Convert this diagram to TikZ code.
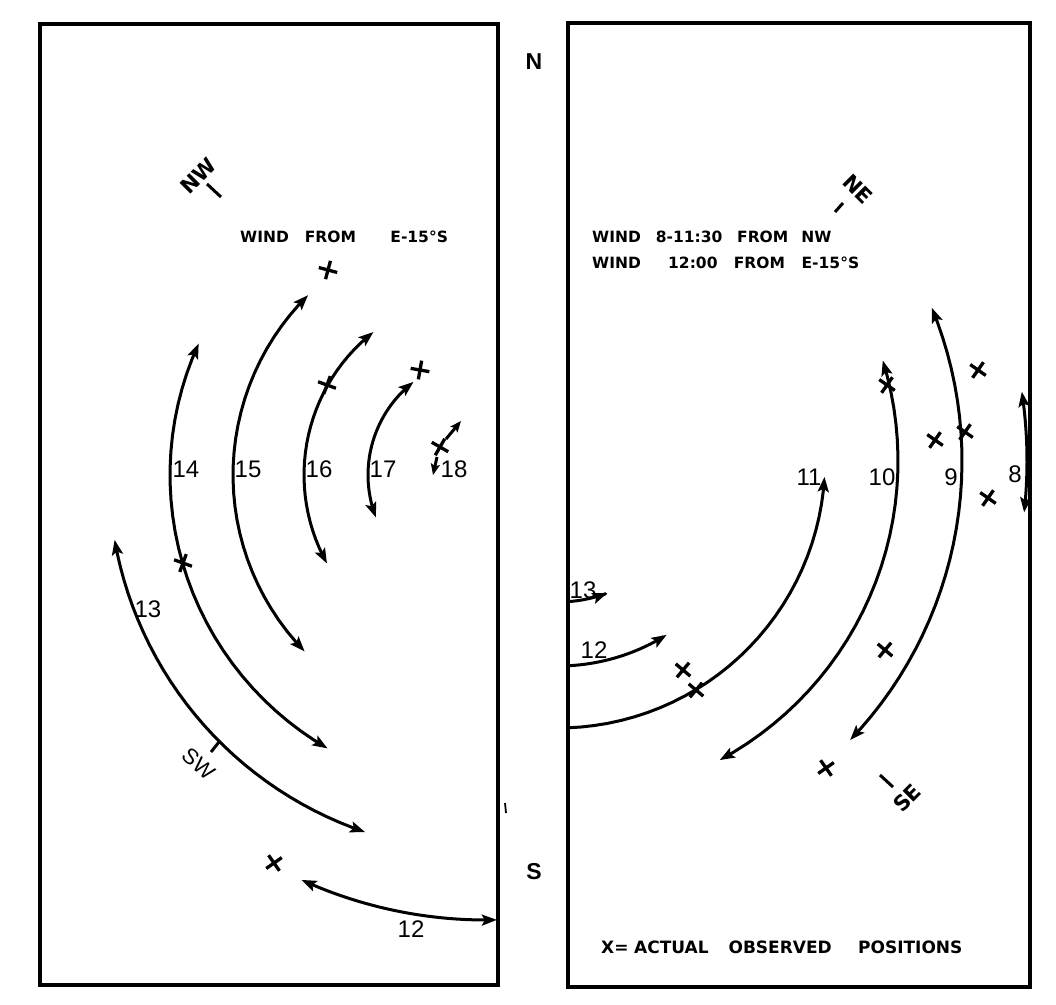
\documentclass[tikz,border=0pt]{standalone}
\usepackage{fontspec}
\setmainfont{Liberation Sans}
\newfontfamily\letterfont{DejaVu Sans}
\usepackage{graphicx}
\usetikzlibrary{arrows.meta}
\newcommand\windarc[6][]{\draw[arcline,#1] plot[domain=#5:#6,samples=30] ({#2+#4*cos(\x)},{#3+#4*sin(\x)});}
\newcommand\obsX[3]{\draw[xline] ({#1+9.5*cos(#3)},{#2+9.5*sin(#3)}) -- ({#1-9.5*cos(#3)},{#2-9.5*sin(#3)}) ({#1+9.5*cos(#3+90)},{#2+9.5*sin(#3+90)}) -- ({#1-9.5*cos(#3+90)},{#2-9.5*sin(#3+90)});}
\tikzset{
  panel/.style={line width=3.3pt},
  arcline/.style={line width=3pt},
  xline/.style={line width=3.3pt},
  tick/.style={line width=3pt},
  num/.style={inner sep=0pt, font=\fontsize{24}{24}\selectfont},
  lettering/.style={inner sep=0pt, anchor=west, font=\letterfont\fontsize{15.5}{15.5}\selectfont\bfseries},
  compass/.style={inner sep=0pt, font=\letterfont\fontsize{21}{21}\selectfont\bfseries},
  compassthin/.style={inner sep=0pt, font=\fontsize{22}{22}\selectfont},
  axislabel/.style={inner sep=0pt, font=\fontsize{23}{23}\selectfont\bfseries},
}
\begin{document}
\begin{tikzpicture}[x=1pt,y=-1pt,>={Stealth[length=15pt,width=11pt,inset=3pt]}]
\useasboundingbox (0,0) rectangle (1056,1004);
\fill[white] (0,0) rectangle (1056,1004);
% panels
\draw[panel] (40,24) rectangle (498,985);
\draw[panel] (568,23) rectangle (1030,987);
% axis letters
\node[axislabel] (north) at (534,62) {N};
\node[axislabel] (south) at (534,872) {S};
\draw[line width=1.8pt] (505,803) -- (506,813);

% ---------- left panel ----------
\windarc[<->]{486}{475}{377}{170.1}{108.7}
\windarc[<->]{486}{475}{316}{204.6}{120.1}
\windarc[<->]{486}{475}{253}{225.3}{135.8}
\windarc[<->]{486}{475}{182}{231.8}{150.9}
\windarc[<->]{486}{475}{118}{232.1}{158.9}
\windarc[<->]{486}{475}{445}{114.5}{88.6}
\draw[arcline,->,>={Stealth[length=11pt,width=9pt,inset=2pt]}] (446,439) -- (461,421);
\draw[arcline,->,>={Stealth[length=11pt,width=9pt,inset=2pt]}] (437,457) -- (433,475);

\obsX{328}{270}{15}
\obsX{420}{370}{10}
\obsX{327}{385}{20}
\obsX{440}{447}{30}
\obsX{183}{563}{20}
\obsX{274}{863}{-35}

\node[num] (l14) at (186,469) {14};
\node[num] (l15) at (248,469) {15};
\node[num] (l16) at (319,469) {16};
\node[num] (l17) at (383,469) {17};
\node[num] (l18) at (454,469) {18};
\node[num] (l13) at (148,609) {13};
\node[num] (l12) at (411,929) {12};

\node[lettering] (windL) at (240,237) {WIND \hspace{10.6pt}FROM \hspace{29pt}E-15°S};

\draw[tick] (207,184) -- (221,197);
\node[compass,rotate=45] (nw) at (198,176) {NW};
\draw[tick] (219,742) -- (211,752);
\node[compassthin,rotate=-42] (sw) at (199,764) {SW};

% ---------- right panel ----------
\windarc[->]{558}{461}{267}{87.9}{3.4}
\windarc[<->]{558}{461}{340}{61.6}{-17.2}
\windarc[<->]{558}{461}{404}{43.7}{-22.3}
\windarc[<->]{558}{461}{469}{6.3}{-8.5}
\windarc[->]{558}{461}{205}{87.2}{58}
\windarc[->]{558}{461}{141}{85.9}{69.5}

\obsX{978}{370}{35}
\obsX{935}{440}{35}
\obsX{965}{432}{35}
\obsX{988}{498}{35}
\obsX{887}{385}{35}
\obsX{885}{650}{40}
\obsX{826}{768}{55}
\obsX{683}{670}{40}
\obsX{696}{690}{40}

\node[num] (r11) at (809,477) {11};
\node[num] (r10) at (882,477) {10};
\node[num] (r9) at (951,477) {9};
\node[num] (r8) at (1015,474) {8};
\node[num] (r13) at (583,590) {13};
\node[num] (r12) at (594,650) {12};

\node[lettering] (windR1) at (592,237) {WIND \hspace{9.6pt}8-11:30 \hspace{9.3pt}FROM \hspace{7.6pt}NW};
\node[lettering] (windR2) at (592,263) {WIND \hspace{21.9pt}12:00 \hspace{10.9pt}FROM \hspace{11.3pt}E-15°S};
\node[lettering,font=\letterfont\fontsize{17}{17}\selectfont\bfseries] (legend) at (601,947) {X=\hspace{5.6pt}ACTUAL \hspace{14pt}OBSERVED \hspace{20.4pt}POSITIONS};

\draw[tick] (835,212) -- (843,203);
\node[compass,rotate=-45] (ne) at (858,189) {NE};
\draw[tick] (880,775) -- (893,787);
\node[compass,rotate=45] (se) at (907,798) {SE};
\end{tikzpicture}
\end{document}
